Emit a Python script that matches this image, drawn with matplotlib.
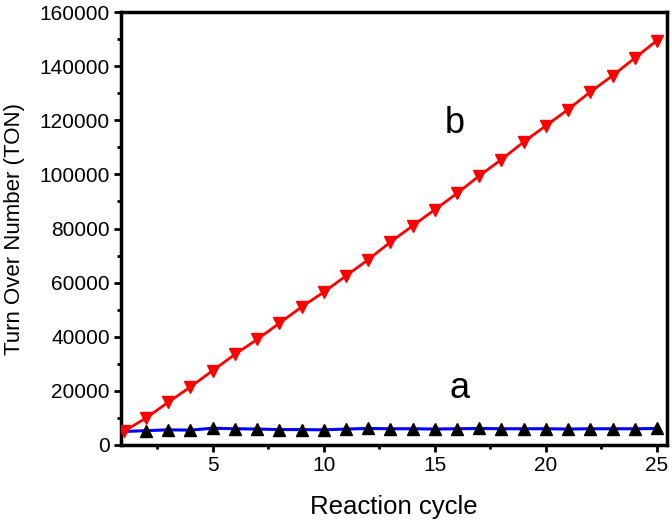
import matplotlib
matplotlib.use("Agg")
import matplotlib.pyplot as plt
from matplotlib.ticker import MultipleLocator

plt.rcParams['font.family'] = ['Liberation Sans', 'DejaVu Sans']

cycles = list(range(1, 26))
ton_a = [5000, 5300, 5600, 5500, 6200, 6000, 5900, 5700, 5700, 5600, 5900, 6100, 6000,
         6000, 5900, 6000, 6100, 6000, 6000, 6000, 5900, 6000, 6000, 6000, 6100]
ton_b = [5000, 10000, 15800, 21500, 27500, 33500, 39000, 45000, 51000, 56500, 62500,
         68500, 75000, 81000, 87000, 93000, 99500, 105500, 112000, 118000, 124000,
         130500, 136500, 143000, 149500]

fig = plt.figure(figsize=(6.72, 5.26), dpi=100)
ax = fig.add_axes([0.18, 0.154, 0.8125, 0.823])

ax.plot(cycles, ton_a, color='#0000ff', lw=2.2, zorder=2)
ax.plot(cycles[1:], ton_a[1:], ls='none', marker='^', color='black', ms=9, zorder=3)
ax.plot(cycles, ton_b, color='#ff0000', lw=2, marker='v', ms=9, zorder=4)

ax.text(15.9, 119000, 'b', fontsize=26, ha='center', va='center')
ax.text(16.1, 21000, 'a', fontsize=26, ha='center', va='center')

ax.set_xlim(0.87, 25.45)
ax.set_ylim(0, 160000)
ax.xaxis.set_major_locator(MultipleLocator(5))
ax.xaxis.set_minor_locator(MultipleLocator(2.5))
ax.yaxis.set_major_locator(MultipleLocator(20000))
ax.yaxis.set_minor_locator(MultipleLocator(10000))
ax.tick_params(which='major', direction='out', length=5, width=2, labelsize=15, pad=3)
ax.tick_params(which='minor', direction='out', length=3, width=2)
for s in ax.spines.values():
    s.set_linewidth(2.5)

ax.set_xlabel('Reaction cycle', fontsize=18.5, va='center')
ax.set_ylabel('Turn Over Number (TON)', fontsize=16, va='center')
ax.xaxis.set_label_coords(0.5, -0.143)
ax.yaxis.set_label_coords(-0.195, 0.5)

fig.savefig('out.png', dpi=100)
